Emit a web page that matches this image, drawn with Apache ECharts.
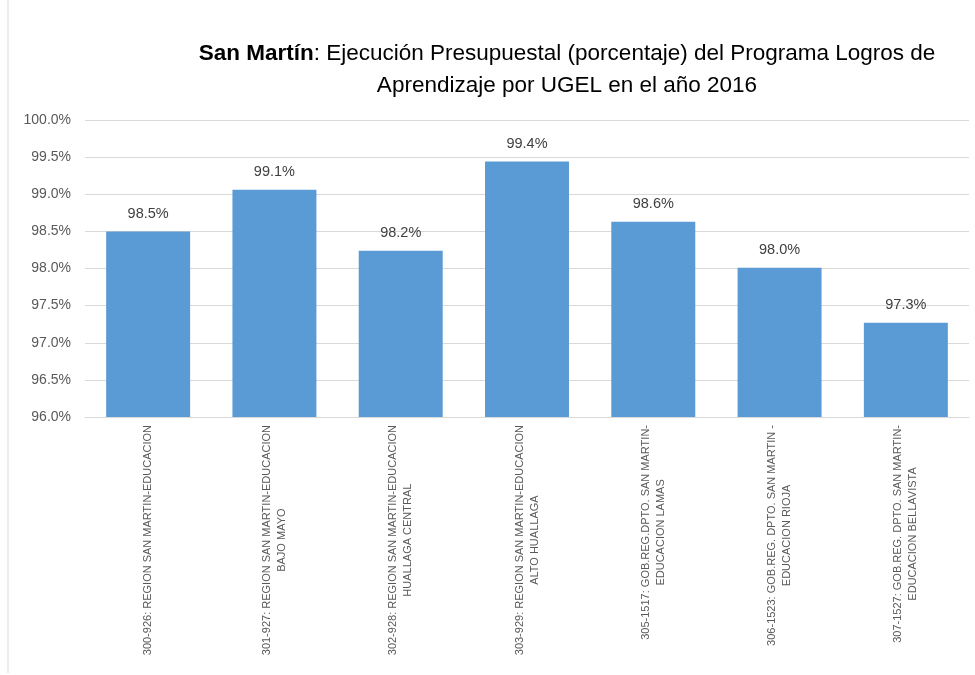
<!DOCTYPE html>
<html>
<head>
<meta charset="utf-8">
<script src="https://cdn.jsdelivr.net/npm/echarts@6/dist/echarts.min.js"></script>
<style>
  html, body { margin: 0; padding: 0; background: #fff; }
  #chart { width: 975px; height: 675px; }
</style>
</head>
<body>
<div id="chart"></div>
<script>
const categories = [
  '300-926: REGION SAN MARTIN-EDUCACION',
  '301-927: REGION SAN MARTIN-EDUCACION\nBAJO MAYO',
  '302-928: REGION SAN MARTIN-EDUCACION\nHUALLAGA CENTRAL',
  '303-929: REGION SAN MARTIN-EDUCACION\nALTO HUALLAGA',
  '305-1517: GOB.REG.DPTO. SAN MARTIN-\nEDUCACION LAMAS',
  '306-1523: GOB.REG. DPTO. SAN MARTIN -\nEDUCACION RIOJA',
  '307-1527: GOB.REG. DPTO. SAN MARTIN-\nEDUCACION BELLAVISTA'
]
const ejecucion = [98.50, 99.06, 98.24, 99.44, 98.63, 98.01, 97.27]
const yMin = 96
const yMax = 100
const yStep = 0.5

const chart = echarts.init(document.getElementById('chart'))

const options = {
  backgroundColor: '#fff',
  animation: false,
  title: {
    text: '{b|San Martín}{n|: Ejecución Presupuestal (porcentaje) del Programa Logros de}\n{n|Aprendizaje por UGEL en el año 2016}',
    left: 562,
    top: 33,
    textAlign: 'center',
    textStyle: {
      rich: {
        b: { fontFamily: 'Liberation Sans', fontSize: 22.5, fontWeight: 'bold', color: '#000', lineHeight: 32 },
        n: { fontFamily: 'Liberation Sans', fontSize: 22.5, fontWeight: 'normal', color: '#000', lineHeight: 32 }
      }
    }
  },
  grid: {
    left: 85,
    right: 6,
    top: 120,
    bottom: 258
  },
  xAxis: {
    type: 'category',
    data: categories,
    axisTick: { show: false },
    axisLine: { show: true, lineStyle: { color: '#d9d9d9' } },
    axisLabel: {
      rotate: 90,
      interval: 0,
      margin: 8,
      formatter: function (v) {
        return v.split('\n').map(l => '{c|' + l + '}').join('\n')
      },
      rich: {
        c: { align: 'center', fontFamily: 'Liberation Sans', fontSize: 11, color: '#595959', lineHeight: 15 }
      }
    }
  },
  yAxis: {
    type: 'value',
    min: yMin,
    max: yMax,
    interval: yStep,
    axisLine: { show: false },
    axisTick: { show: false },
    splitLine: { lineStyle: { color: '#d9d9d9' } },
    axisLabel: {
      margin: 14,
      fontFamily: 'Liberation Sans',
      fontSize: 14,
      color: '#595959',
      formatter: v => v.toFixed(1) + '%'
    }
  },
  series: [
    {
      name: 'Ejecución',
      type: 'bar',
      barWidth: '66.5%',
      data: ejecucion,
      itemStyle: { color: '#5b9bd5' },
      label: {
        show: true,
        position: 'top',
        distance: 10,
        fontFamily: 'Liberation Sans',
        fontSize: 14.5,
        color: '#404040',
        formatter: p => p.value.toFixed(1) + '%'
      }
    }
  ],
  graphic: [
    {
      type: 'line',
      shape: { x1: 8, y1: 0, x2: 8, y2: 673 },
      style: { stroke: '#d9d9d9', lineWidth: 1 }
    }
  ]
}

chart.setOption(options)
</script>
</body>
</html>
